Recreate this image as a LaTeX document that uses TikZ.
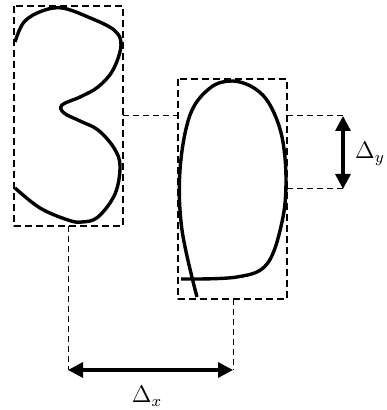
\documentclass[tikz,border=0pt]{standalone}
\usetikzlibrary{arrows.meta}
\begin{document}
\begin{tikzpicture}[x=0.5pt, y=-0.5pt, >={Triangle[length=7.5pt, width=7.5pt]}, line join=round,
	box/.style={dash pattern=on 3.5pt off 2pt, line width=0.9pt},
	guide/.style={dash pattern=on 3pt off 2pt, line width=0.5pt},
	outline/.style={line width=1.7pt, smooth, tension=0.6},
	dimarrow/.style={<->, line width=1.6pt},
	every node/.style={font=\large}]
	\useasboundingbox (0,0) rectangle (386,410);
	
	% 1. 包围框
	\coordinate (LTL) at (14,6);   \coordinate (LBR) at (123,226);
	\coordinate (RTL) at (178,79); \coordinate (RBR) at (287,299);
	\draw[box] (LTL) rectangle (LBR);
	\draw[box] (RTL) rectangle (RBR);
	
	% 2. 轮廓曲线
	\draw[outline] plot coordinates {(15,42) (24,22) (42,11) (62,8) (88,17) (114,30) (121,45) (113,70) (98,87) (80,97) (62,105) (64,113) (80,121) (98,130) (114,148) (120,166) (115,194) (98,217) (82,222) (68,220) (40,208) (15,188)};
	\draw[outline] plot coordinates {(181,279) (237,277) (267,264) (282,222) (286,180) (282,137) (270,105) (254,88) (232,81) (210,88) (190,115) (180,170) (182,230) (197,297)};
	
	% 3. 辅助虚线
	\coordinate (mL) at (123,116); \coordinate (mR) at (178,116);
	\draw[guide] (mL) -- (mR);
	\coordinate (yt0) at (287,116); \coordinate (yt1) at (343,116);
	\coordinate (yb0) at (287,189); \coordinate (yb1) at (343,189);
	\draw[guide] (yt0) -- (yt1);
	\draw[guide] (yb0) -- (yb1);
	\coordinate (xl0) at (68,226);  \coordinate (xl1) at (68,370);
	\coordinate (xr0) at (233,299); \coordinate (xr1) at (233,370);
	\draw[guide] (xl0) -- (xl1);
	\draw[guide] (xr0) -- (xr1);
	
	% 4. 位移箭头与标号
	\draw[dimarrow] (yt1) -- (yb1);
	\draw[dimarrow] (xl1) -- (xr1);
	\node (dy) at (370,154) {$\Delta_y$};
	\node (dx) at (147,396) {$\Delta_x$};
\end{tikzpicture}
\end{document}
